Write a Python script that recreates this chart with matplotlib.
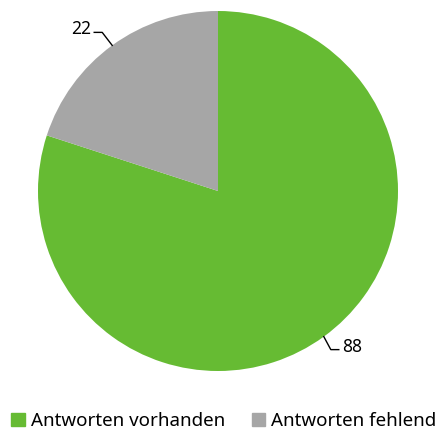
import numpy as np
import matplotlib
matplotlib.use("Agg")
import matplotlib.pyplot as plt
from matplotlib.patches import Patch

labels = ['Antworten vorhanden', 'Antworten fehlend']
values = [88, 22]
colors = ['#66BB33', '#A6A6A6']

plt.rcParams['font.family'] = ['Noto Sans', 'DejaVu Sans']

fig = plt.figure(figsize=(4.41, 4.30), dpi=100)
ax = fig.add_axes([0, 0, 1, 1])

cx, cy, r = 218, 239, 180
wedges, _ = ax.pie(values, colors=colors, startangle=90, counterclock=False,
                   center=(cx, cy), radius=r, frame=True)
ax.set_xlim(0, 441)
ax.set_ylim(0, 430)
ax.set_aspect('equal')
ax.axis('off')

# leader lines + value labels
for w, v in zip(wedges, values):
    ang = np.deg2rad((w.theta1 + w.theta2) / 2)
    x0, y0 = cx + r * np.cos(ang), cy + r * np.sin(ang)
    sx = np.sign(np.cos(ang))
    sy = np.sign(np.sin(ang))
    x1, y1 = x0 + (-10 if sx < 0 else 7), y0 + sy * 13
    x2 = x1 + sx * 8
    ax.plot([x0, x1, x2], [y0, y1, y1], color='black', lw=1)
    ax.text(x2 + sx * 3, y1 + 3, str(v), ha='left' if sx > 0 else 'right',
            va='center', fontsize=12.5)

handles = [Patch(color=c) for c in colors]
fig.legend(handles, labels, loc='lower center', ncol=2, frameon=False,
           fontsize=13.5, handlelength=0.7, handleheight=0.7, handletextpad=0.35,
           columnspacing=1.4, bbox_to_anchor=(0.508, -0.04))

fig.savefig('out.png', dpi=100)
